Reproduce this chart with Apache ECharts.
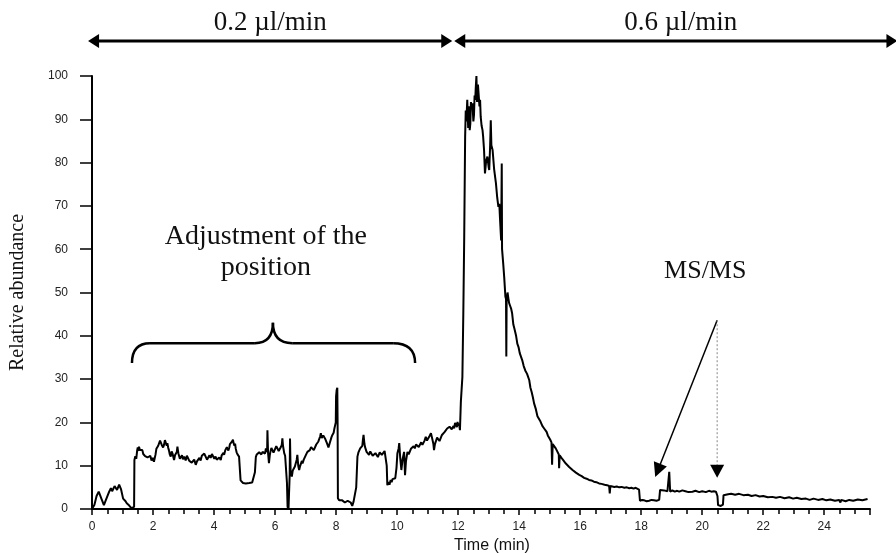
<!DOCTYPE html>
<html>
<head>
<meta charset="utf-8">
<script src="https://cdn.jsdelivr.net/npm/echarts@6/dist/echarts.min.js"></script>
<style>html,body{margin:0;padding:0;background:#fff;}#c{width:896px;height:553px;}</style>
</head>
<body>
<div id="c"></div>
<script>
// [time (min), relative abundance (%)]
const trace = [
[0.00,0.0],[0.08,1.0],[0.15,3.0],[0.22,4.0],[0.28,3.6],[0.33,2.0],[0.39,0.9],[0.45,2.0],[0.55,3.8],[0.62,4.8],[0.66,4.1],[0.70,4.4],[0.74,5.3],[0.78,5.2],[0.82,4.4],[0.85,4.6],[0.89,5.6],[0.92,5.5],[0.95,4.6],[0.98,4.9],
[1.02,2.4],[1.06,2.0],[1.10,1.8],[1.14,1.3],[1.18,1.2],[1.22,0.8],[1.25,0.6],[1.29,0.2],[1.33,0.4],[1.38,0.5],
[1.39,11.3],[1.42,12.2],[1.45,11.6],[1.48,13.5],[1.50,14.2],[1.52,13.4],[1.54,14.4],[1.57,13.6],[1.60,13.2],[1.62,14.0],[1.65,13.6],[1.68,12.7],[1.70,12.9],[1.74,12.2],[1.78,12.6],[1.82,11.9],[1.87,11.7],[1.91,12.3],[1.95,11.2],[1.99,11.8],
[2.03,10.9],[2.06,11.9],[2.08,12.5],[2.11,13.9],[2.14,13.6],[2.17,14.6],[2.20,14.9],[2.23,15.8],[2.25,16.0],[2.28,14.9],[2.30,15.1],[2.33,14.2],[2.36,14.8],[2.39,15.9],[2.42,15.6],[2.45,14.6],[2.47,15.2],[2.50,14.1],[2.52,13.6],[2.55,12.6],
[2.58,12.1],[2.61,13.3],[2.64,12.8],[2.67,11.9],[2.69,11.3],[2.72,12.4],[2.75,12.0],[2.78,13.2],[2.80,14.4],[2.83,12.9],[2.85,12.5],[2.88,11.6],[2.91,11.9],[2.95,12.4],[2.98,11.5],[3.02,12.1],[3.07,11.2],[3.11,12.3],[3.15,12.0],[3.19,11.1],
[3.23,11.5],[3.27,10.7],[3.30,10.8],[3.35,11.4],[3.40,10.2],[3.44,11.0],[3.48,10.9],[3.52,11.8],[3.56,11.2],[3.60,12.3],[3.64,12.0],[3.68,12.8],[3.73,12.5],[3.77,11.4],[3.80,11.6],[3.85,12.4],[3.89,11.8],[3.93,12.7],[3.97,12.3],[4.01,11.6],
[4.05,12.1],[4.09,11.4],[4.13,11.0],[4.17,11.9],[4.22,11.3],[4.25,12.4],[4.28,12.2],[4.31,13.0],[4.33,12.5],[4.37,13.6],[4.40,13.4],[4.42,14.3],[4.44,14.0],[4.47,13.5],[4.50,14.2],[4.52,15.0],[4.55,14.8],[4.58,15.5],[4.62,16.0],[4.64,15.2],
[4.67,14.6],[4.69,15.1],[4.71,14.0],[4.74,13.1],[4.77,12.6],[4.79,13.0],[4.82,12.1],[4.84,12.4],[4.86,11.8],
[4.87,6.6],[4.91,6.3],[4.95,6.0],[5.00,6.4],[5.04,5.9],[5.09,6.2],[5.15,6.0],[5.20,6.4],[5.25,6.1],[5.31,6.2],[5.34,8.5],[5.37,12.0],[5.40,12.6],[5.43,12.8],[5.46,12.2],[5.48,13.1],[5.52,13.5],[5.55,12.6],[5.59,13.2],[5.64,13.4],
[5.67,12.8],[5.70,14.0],[5.74,13.2],[5.75,18.2],[5.77,13.0],[5.80,10.6],[5.83,12.6],[5.85,13.3],[5.88,14.1],[5.91,13.8],[5.95,13.0],[6.00,13.4],[6.04,14.5],[6.08,14.2],[6.12,13.4],[6.15,13.7],[6.19,14.3],[6.22,14.8],[6.24,16.3],[6.26,14.6],
[6.28,15.0],[6.30,12.9],[6.33,12.3],[6.36,12.2],[6.39,6.0],[6.41,0.5],[6.44,0.0],[6.46,0.3],[6.48,8.0],[6.49,16.3],[6.51,8.5],[6.55,7.5],[6.58,8.9],[6.60,8.6],[6.62,9.0],[6.65,9.8],[6.68,10.2],[6.71,11.4],[6.73,12.5],[6.76,10.0],
[6.79,9.0],[6.82,9.9],[6.85,10.2],[6.88,11.1],[6.90,10.5],[6.94,11.4],[6.98,11.8],[7.02,12.6],[7.06,13.2],[7.10,12.8],[7.14,13.6],[7.18,14.3],[7.23,14.4],[7.27,13.6],[7.30,13.9],[7.35,14.9],[7.39,14.8],[7.42,15.6],[7.45,16.0],[7.48,16.8],
[7.50,17.5],[7.53,16.4],[7.55,16.3],[7.58,17.0],[7.61,16.7],[7.65,16.1],[7.68,15.8],[7.70,15.2],[7.72,15.0],[7.75,14.2],[7.77,14.4],[7.80,15.4],[7.82,15.6],[7.85,16.6],[7.88,17.1],[7.90,16.8],[7.92,17.6],[7.94,18.4],[7.96,18.2],[7.99,20.0],
[8.00,26.0],[8.02,27.5],[8.04,28.0],[8.05,20.0],[8.06,2.5],[8.10,2.0],[8.15,1.7],[8.20,2.0],[8.25,1.8],[8.29,1.5],[8.33,1.6],[8.38,1.9],[8.42,1.7],[8.48,1.5],[8.53,0.7],[8.57,1.6],[8.62,1.7],[8.66,5.0],
[8.70,12.1],[8.73,13.0],[8.76,12.9],[8.79,14.0],[8.81,13.6],[8.84,14.2],[8.86,14.6],[8.88,16.0],[8.90,17.1],[8.93,15.0],[8.95,14.3],[8.97,14.0],[9.00,13.2],[9.03,13.4],[9.06,12.8],[9.08,12.5],[9.12,13.3],[9.15,12.9],[9.20,12.3],[9.25,12.1],
[9.29,12.9],[9.33,12.6],[9.37,12.0],[9.40,12.4],[9.43,13.1],[9.46,13.2],[9.50,12.5],[9.55,12.8],[9.59,13.4],[9.63,13.2],[9.66,10.0],[9.68,5.5],[9.72,6.2],[9.75,5.6],[9.79,6.7],[9.82,6.2],[9.85,6.9],[9.90,6.5],[9.94,7.1],[9.98,9.5],
[10.01,12.9],[10.05,14.0],[10.07,15.2],[10.10,12.0],[10.14,9.0],[10.18,11.5],[10.23,13.2],[10.26,7.8],[10.29,11.0],[10.34,13.2],[10.38,12.6],[10.42,13.0],[10.46,14.0],[10.50,13.6],[10.54,14.5],[10.58,14.0],[10.62,14.9],[10.67,15.2],[10.71,14.3],[10.75,14.6],
[10.79,15.4],[10.83,14.8],[10.87,15.2],[10.90,15.8],[10.94,16.7],[10.98,15.8],[11.02,16.0],[11.06,16.8],[11.11,17.5],[11.14,16.6],[11.16,16.2],[11.19,15.0],[11.21,13.6],[11.24,15.0],[11.27,15.6],[11.31,16.5],[11.35,16.4],[11.39,15.7],[11.43,16.0],[11.47,17.1],
[11.52,16.9],[11.56,17.8],[11.60,17.5],[11.64,18.6],[11.68,18.3],[11.72,19.0],[11.76,19.4],[11.79,18.4],[11.82,18.0],[11.85,19.2],[11.87,18.6],[11.90,19.9],[11.93,19.6],[11.96,18.9],[11.98,20.1],[12.01,19.2],[12.03,19.8],[12.06,18.2],
[12.09,24.8],[12.14,30.5],[12.17,45.0],[12.20,62.9],[12.23,86.0],[12.25,92.0],[12.27,89.5],[12.30,94.5],[12.33,88.0],[12.36,93.0],[12.38,87.5],[12.40,89.0],[12.42,94.0],[12.44,92.5],[12.47,93.7],[12.50,89.5],[12.52,91.0],[12.54,95.5],[12.56,94.5],[12.58,97.5],
[12.60,100.0],[12.62,94.0],[12.63,95.0],[12.65,98.0],[12.67,96.0],[12.70,93.0],[12.72,94.5],[12.74,90.6],[12.77,88.5],[12.80,87.5],[12.82,86.0],[12.85,82.9],[12.88,77.5],[12.92,80.5],[12.96,81.4],[13.00,79.0],[13.02,78.3],[13.05,84.0],[13.07,89.8],[13.09,84.0],
[13.13,82.9],[13.18,78.5],[13.24,75.2],[13.28,72.0],[13.32,69.8],[13.35,70.5],[13.37,67.5],[13.41,62.0],[13.43,79.8],[13.44,60.0],[13.48,56.5],[13.51,53.6],[13.55,49.0],[13.57,48.5],[13.58,35.2],[13.59,48.0],[13.62,50.0],[13.64,49.0],[13.67,47.6],[13.70,47.0],
[13.74,46.2],[13.77,45.2],[13.81,42.6],[13.85,41.5],[13.90,40.0],[13.94,38.2],[13.98,37.4],[14.02,36.0],[14.06,35.6],[14.10,34.4],[14.15,33.0],[14.20,32.0],[14.26,31.2],[14.33,29.8],[14.37,28.0],[14.41,27.0],[14.45,25.8],[14.49,24.4],[14.55,23.0],[14.60,21.4],
[14.65,21.0],[14.70,20.2],[14.76,19.2],[14.82,18.6],[14.86,18.3],[14.90,17.8],[14.94,17.0],[14.98,16.7],[15.02,16.0],[15.06,15.4],[15.08,10.2],[15.10,15.0],[15.15,14.6],[15.20,14.0],[15.26,13.6],[15.30,12.6],[15.31,9.4],[15.33,12.4],[15.37,12.0],[15.42,11.5],
[15.47,11.2],[15.53,10.5],[15.58,10.2],[15.64,9.7],[15.70,9.4],[15.75,9.0],[15.80,8.8],[15.86,8.4],[15.92,8.2],[15.97,7.9],[16.05,7.6],[16.13,7.2],[16.21,7.0],[16.29,6.7],[16.37,6.6],[16.45,6.3],[16.53,6.2],[16.62,5.9],[16.70,5.8],[16.80,5.6],
[16.88,5.5],[16.95,5.3],[16.97,3.6],[16.99,5.3],[17.05,5.4],[17.12,5.1],[17.20,5.2],[17.28,5.0],[17.36,5.1],[17.45,4.9],[17.53,5.0],[17.61,4.8],[17.68,4.9],[17.75,4.7],[17.82,4.9],[17.88,5.2],[17.93,4.5],[17.96,1.9],[18.03,2.1],[18.10,2.0],
[18.18,1.8],[18.26,1.9],[18.34,2.1],[18.42,2.0],[18.50,1.9],[18.59,2.1],[18.62,4.4],[18.68,4.1],[18.75,4.3],[18.80,4.0],[18.86,4.1],[18.90,4.2],[18.92,8.6],[18.95,4.0],[19.02,4.3],[19.10,4.0],[19.18,4.2],[19.25,4.0],[19.35,4.3],[19.45,4.1],
[19.55,3.9],[19.68,4.0],[19.78,4.2],[19.90,3.9],[20.00,4.1],[20.12,3.9],[20.22,4.2],[20.30,4.0],[20.38,4.1],[20.45,4.0],[20.50,3.0],[20.52,0.9],[20.56,0.6],[20.61,0.7],[20.68,1.0],[20.70,3.2],[20.75,3.6],[20.85,3.4],[20.95,3.5],[21.08,3.3],
[21.21,3.5],[21.35,3.2],[21.50,3.3],[21.62,3.0],[21.75,3.2],[21.88,2.9],[22.00,3.0],[22.15,2.7],[22.30,2.8],[22.42,2.6],[22.55,2.8],[22.70,2.5],[22.85,2.7],[22.98,2.4],[23.10,2.6],[23.25,2.3],[23.40,2.4],[23.52,2.1],[23.65,2.4],[23.80,2.1],
[23.94,2.3],[24.07,2.0],[24.20,2.2],[24.35,1.9],[24.49,2.1],[24.53,1.5],[24.56,2.1],[24.70,1.8],[24.82,2.1],[24.95,1.9],[25.10,2.2],[25.25,2.0],[25.42,2.3]
];
const xTicks = [0,2,4,6,8,10,12,14,16,18,20,22,24];
const yTicks = [0,10,20,30,40,50,60,70,80,90,100];

const chart = echarts.init(document.getElementById('c'), null, {renderer:'canvas'});
const serif = '"Liberation Serif","Times New Roman",serif';
const sans = '"Liberation Sans",Arial,sans-serif';

chart.setOption({
  animation:false,
  backgroundColor:'#fff',
  grid:{left:92,right:26,top:76,bottom:44,containLabel:false,outerBoundsMode:'none'},
  xAxis:{
    type:'value',min:0,max:25.5,interval:2,
    name:'Time (min)',nameLocation:'middle',nameGap:29,
    nameTextStyle:{fontFamily:sans,fontSize:16,color:'#111',padding:[0,0,0,22]},
    axisLine:{show:true,lineStyle:{color:'#000',width:2}},
    axisTick:{show:true,length:6,lineStyle:{color:'#000',width:1.5}},
    minorTick:{show:true,splitNumber:4,length:5,lineStyle:{color:'#000',width:1.5}},
    axisLabel:{fontFamily:sans,fontSize:12,color:'#222',margin:12,showMaxLabel:false,
      formatter:v=>xTicks.indexOf(v)>=0?String(v):''},
    splitLine:{show:false}
  },
  yAxis:{
    type:'value',min:0,max:100,interval:10,
    name:'Relative abundance',nameLocation:'middle',nameGap:64,nameRotate:90,
    nameTextStyle:{fontFamily:serif,fontSize:20,color:'#111'},
    axisLine:{show:true,lineStyle:{color:'#000',width:2}},
    axisTick:{show:true,length:12,lineStyle:{color:'#000',width:1.5}},
    axisLabel:{fontFamily:sans,fontSize:12,color:'#222',margin:24,
      formatter:v=>yTicks.indexOf(v)>=0?String(v):''},
    splitLine:{show:false}
  },
  series:[{
    type:'line',
    data:trace,
    showSymbol:false,symbol:'none',
    lineStyle:{color:'#000',width:2},
    z:3
  }]
});

function P(t,v){return chart.convertToPixel({gridIndex:0},[t,v]);}
function tri(tip, dirx, diry, len, half){
  const n=Math.hypot(dirx,diry); const ux=dirx/n, uy=diry/n;
  const bx=tip[0]-ux*len, by=tip[1]-uy*len;
  return {type:'polygon',shape:{points:[[tip[0],tip[1]],[bx-uy*half,by+ux*half],[bx+uy*half,by-ux*half]]},style:{fill:'#000'},z:10};
}
function quad(a,c,b){
  return {type:'bezierCurve',shape:{x1:a[0],y1:a[1],x2:b[0],y2:b[1],cpx1:c[0],cpy1:c[1]},style:{stroke:'#000',lineWidth:2.5,fill:null},z:10};
}
function seg(a,b,w,col,dash){
  const st={stroke:col||'#000',lineWidth:w};
  if(dash) st.lineDash=dash;
  return {type:'line',shape:{x1:a[0],y1:a[1],x2:b[0],y2:b[1]},style:st,z:10};
}

const g = [];
// flow-rate arrows (data units)
const flowY = 108.1;
const aL = P(-0.13,flowY), aM = P(11.84,flowY), aR = P(26.4,flowY);
g.push(seg([aL[0]+8,aL[1]],[aM[0]-8,aM[1]],3));
g.push(seg([aM[0]+8,aM[1]],[aR[0]-8,aR[1]],3));
g.push(tri(aL,-1,0,11,7));
g.push(tri([aM[0]-1,aM[1]],1,0,11,7));
g.push(tri([aM[0]+1,aM[1]],-1,0,11,7));
g.push(tri(aR,1,0,11,7));
const t1 = P(5.84,112.3), t2 = P(19.3,112.3);
g.push({type:'text',x:t1[0],y:t1[1],style:{text:'0.2 µl/min',fontFamily:serif,fontSize:27,fill:'#111',align:'center',verticalAlign:'middle'},z:10});
g.push({type:'text',x:t2[0],y:t2[1],style:{text:'0.6 µl/min',fontFamily:serif,fontSize:27,fill:'#111',align:'center',verticalAlign:'middle'},z:10});

// Adjustment label + brace
const adj1 = P(5.70,62.8), adj2 = P(5.70,55.8);
g.push({type:'text',x:adj1[0],y:adj1[1],style:{text:'Adjustment of the',fontFamily:serif,fontSize:28,fill:'#111',align:'center',verticalAlign:'middle'},z:10});
g.push({type:'text',x:adj2[0],y:adj2[1],style:{text:'position',fontFamily:serif,fontSize:28,fill:'#111',align:'center',verticalAlign:'middle'},z:10});
const b = [[1.31,33.7],[1.90,38.3],[5.34,38.3],[5.93,43.0],[6.56,38.3],[9.87,38.3],[10.59,33.7]].map(p=>P(p[0],p[1]));
g.push(quad(b[0],[b[0][0],b[1][1]],b[1]));
g.push(seg(b[1],b[2],2.5));
g.push(quad(b[2],[b[3][0],b[2][1]],b[3]));
g.push(quad(b[3],[b[3][0],b[4][1]],b[4]));
g.push(seg(b[4],b[5],2.5));
g.push(quad(b[5],[b[6][0],b[5][1]],b[6]));

// MS/MS label + arrows
const ms = P(20.1,55.0);
g.push({type:'text',x:ms[0],y:ms[1],style:{text:'MS/MS',fontFamily:serif,fontSize:26,fill:'#111',align:'center',verticalAlign:'middle'},z:10});
const o = P(20.49,43.6), s1 = P(18.46,7.4), s2 = P(20.49,7.2);
const dx = s1[0]-o[0], dy = s1[1]-o[1], dn = Math.hypot(dx,dy);
g.push(seg(o,[s1[0]-dx/dn*10,s1[1]-dy/dn*10],1.5));
g.push(tri(s1,dx,dy,14,7));
g.push(seg(o,[s2[0],s2[1]-12],1,'#888',[2,2]));
g.push(tri(s2,0,1,13,7));

chart.setOption({graphic:g});
</script>
</body>
</html>
